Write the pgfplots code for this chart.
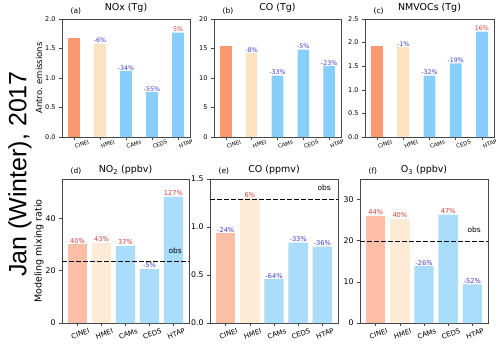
\documentclass[border=0pt]{standalone}
\usepackage{fontspec}
\setmainfont{DejaVu Sans}
\newfontfamily\bigfont{Liberation Sans}
\usepackage{pgfplots}
\pgfplotsset{compat=1.18}

\definecolor{salA}{RGB}{252,152,112}
\definecolor{bisA}{RGB}{255,226,192}
\definecolor{bluA}{RGB}{135,206,250}
\definecolor{salB}{RGB}{252,190,164}
\definecolor{bisB}{RGB}{254,235,213}
\definecolor{bluB}{RGB}{170,221,251}
\definecolor{pos}{RGB}{214,58,58}
\definecolor{neg}{RGB}{62,62,205}
\definecolor{spine}{RGB}{70,70,70}

\pgfplotsset{
  base/.style={
    scale only axis, anchor=south west,
    axis line style={spine, line width=0.8pt},
    tick pos=left, tick align=outside, major tick length=3pt,
    every tick/.append style={spine, line width=0.6pt},
    xtick={0,1,2,3,4}, xticklabels={CINEI,HMEI,CAMs,CEDS,HTAP},
    ymin=0, clip=false,
    /pgf/number format/assume math mode=true,
  },
  toprow/.style={base, width=128pt, height=118pt,
    xmin=-0.46, xmax=4.46,
    title style={font=\fontsize{9.5}{11}\selectfont, yshift=-3pt},
    yticklabel style={font=\fontsize{6.5}{7}\selectfont},
    xticklabel style={font=\fontsize{5.5}{6}\selectfont, rotate=20, anchor=north, xshift=6pt, yshift=-1pt},
    ylabel style={font=\fontsize{8.5}{10}\selectfont, yshift=-4pt},
  },
  botrow/.style={base, width=128pt, height=144pt,
    xmin=-0.65, xmax=4.65,
    title style={font=\fontsize{9.5}{11}\selectfont, yshift=-5pt},
    yticklabel style={font=\fontsize{7.8}{9}\selectfont},
    xticklabel style={font=\fontsize{7}{8}\selectfont, rotate=20, anchor=north, yshift=-2pt},
    ylabel style={font=\fontsize{9.5}{11}\selectfont, yshift=-5pt},
  },
  dec/.style={yticklabel style={/pgf/number format/.cd, fixed, fixed zerofill, precision=1}},
  barsA/.style={ybar, bar width=0.45, bar shift=0pt, draw=none,
    nodes near coords, point meta=explicit symbolic,
    every node near coord/.append style={font=\fontsize{6.3}{7}\selectfont, inner sep=0.5pt}},
  barsB/.style={ybar, bar width=0.8, bar shift=0pt, draw=none,
    nodes near coords, point meta=explicit symbolic,
    every node near coord/.append style={font=\fontsize{6.6}{7}\selectfont, inner sep=0.8pt}},
  obsline/.style={black, line width=1.1pt, dash pattern=on 4.5pt off 2.5pt},
}
\newcommand{\pl}[1]{\textcolor{pos}{#1}}
\newcommand{\mi}[1]{\textcolor{neg}{#1}}
\newcommand{\plab}[1]{\node[anchor=south west, font=\fontsize{7.5}{9}\selectfont] at (rel axis cs:0.04,1.005) {#1};}

\begin{document}
\begin{tikzpicture}
\path[use as bounding box] (0,0) rectangle (500pt,346pt);

\node[rotate=90, font=\fontsize{25}{30}\selectfont\bigfont] at (20pt,172pt) {Jan (Winter), 2017};

% (a) NOx
\begin{axis}[toprow, dec, at={(62pt,209pt)}, ymax=2.0, ytick={0,0.5,...,2.0},
  title={NOx (Tg)}, ylabel={Antro. emissions}]
  \addplot[barsA, fill=salA] coordinates {(0,1.68) []};
  \addplot[barsA, fill=bisA] coordinates {(1,1.58) [\mi{-6\%}]};
  \addplot[barsA, fill=bluA] coordinates {(2,1.12) [\mi{-34\%}] (3,0.76) [\mi{-55\%}] (4,1.77) [\pl{5\%}]};
  \plab{(a)}
\end{axis}

% (b) CO
\begin{axis}[toprow, at={(214pt,209pt)}, width=127pt, ymax=20, ytick={0,5,...,20},
  title={CO (Tg)}]
  \addplot[barsA, fill=salA] coordinates {(0,15.5) []};
  \addplot[barsA, fill=bisA] coordinates {(1,14.2) [\mi{-8\%}]};
  \addplot[barsA, fill=bluA] coordinates {(2,10.4) [\mi{-33\%}] (3,14.8) [\mi{-5\%}] (4,12.0) [\mi{-23\%}]};
  \plab{(b)}
\end{axis}

% (c) NMVOCs
\begin{axis}[toprow, dec, at={(365pt,209pt)}, width=129pt, ymax=2.5, ytick={0,0.5,...,2.5},
  title={NMVOCs (Tg)}]
  \addplot[barsA, fill=salA] coordinates {(0,1.92) []};
  \addplot[barsA, fill=bisA] coordinates {(1,1.91) [\mi{-1\%}]};
  \addplot[barsA, fill=bluA] coordinates {(2,1.30) [\mi{-32\%}] (3,1.56) [\mi{-19\%}] (4,2.23) [\pl{16\%}]};
  \plab{(c)}
\end{axis}

% (d) NO2
\begin{axis}[botrow, at={(62pt,23pt)}, width=127pt, ymax=55, ytick={0,20,40},
  title={NO\textsubscript{2} (ppbv)}, ylabel={Modeling mixing ratio}]
  \addplot[barsB, fill=salB] coordinates {(0,30.0) [\pl{40\%}]};
  \addplot[barsB, fill=bisB] coordinates {(1,30.7) [\pl{43\%}]};
  \addplot[barsB, fill=bluB] coordinates {(2,29.4) [\pl{37\%}] (3,20.6) [\mi{-5\%}] (4,48.3) [\pl{127\%}]};
  \addplot[obsline] coordinates {(-0.65,23.4) (4.65,23.4)};
  \node[anchor=south east, font=\fontsize{7.5}{9}\selectfont] at (axis cs:4.5,25.0) {obs};
  \plab{(d)}
\end{axis}

% (e) CO
\begin{axis}[botrow, dec, at={(210pt,23pt)}, ymax=1.5, ytick={0,0.5,...,1.5},
  title={CO (ppmv)}]
  \addplot[barsB, fill=salB] coordinates {(0,0.935) [\mi{-24\%}]};
  \addplot[barsB, fill=bisB] coordinates {(1,1.30) [\pl{6\%}]};
  \addplot[barsB, fill=bluB] coordinates {(2,0.457) [\mi{-64\%}] (3,0.837) [\mi{-33\%}] (4,0.795) [\mi{-36\%}]};
  \addplot[obsline] coordinates {(-0.65,1.29) (4.65,1.29)};
  \node[anchor=south east, font=\fontsize{7.5}{9}\selectfont] at (axis cs:4.5,1.34) {obs};
  \plab{(e)}
\end{axis}

% (f) O3
\begin{axis}[botrow, at={(360pt,23pt)}, ymax=35, ytick={0,10,20,30},
  title={O\textsubscript{3} (ppbv)}]
  \addplot[barsB, fill=salB] coordinates {(0,26.0) [\pl{44\%}]};
  \addplot[barsB, fill=bisB] coordinates {(1,25.4) [\pl{40\%}]};
  \addplot[barsB, fill=bluB] coordinates {(2,13.8) [\mi{-26\%}] (3,26.3) [\pl{47\%}] (4,9.4) [\mi{-52\%}]};
  \addplot[obsline] coordinates {(-0.65,19.9) (4.65,19.9)};
  \node[anchor=south east, font=\fontsize{7.5}{9}\selectfont] at (axis cs:4.5,21.2) {obs};
  \plab{(f)}
\end{axis}
\end{tikzpicture}
\end{document}
